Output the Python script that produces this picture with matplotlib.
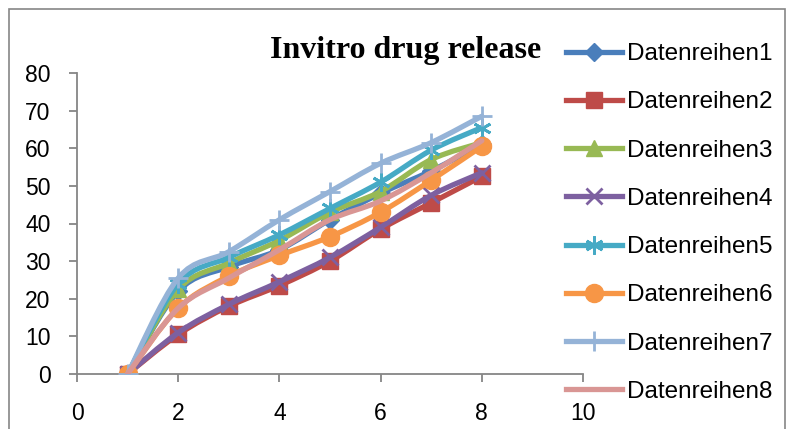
import numpy as np
import matplotlib
matplotlib.use("Agg")
import matplotlib.pyplot as plt
from matplotlib.path import Path
from matplotlib.patches import PathPatch, Rectangle
from matplotlib.lines import Line2D

# time points (x axis)
x = [1, 2, 3, 4, 5, 6, 7, 8]

# release values
s1 = [0, 22, 28.5, 33, 41, 48, 54, 61]
s2 = [0, 10.5, 18, 23.5, 30, 38.5, 45.5, 52.5]
s3 = [0, 22.5, 29.5, 35.5, 43, 48.5, 57, 61.5]
s4 = [0, 11, 18.5, 24.5, 31, 39, 47.5, 53.5]
s5 = [0, 24, 31, 37, 44, 51, 59.5, 65.5]
s6 = [0, 17.5, 26, 31.5, 36.5, 43, 51.5, 60.5]
s7 = [0, 25.5, 32.5, 41, 48.5, 56, 61.5, 68.5]
s8 = [0, 17.5, 25.5, 33, 41, 46, 53.5, 62]

labels = ["Datenreihen1", "Datenreihen2", "Datenreihen3", "Datenreihen4",
          "Datenreihen5", "Datenreihen6", "Datenreihen7", "Datenreihen8"]

series = [s1, s2, s3, s4, s5, s6, s7, s8]
colors = ["#4A7EBB", "#BE4B48", "#98B954", "#7D60A0",
          "#46AAC5", "#F79646", "#95B3D7", "#D99694"]
markers = ["D", "s", "^", "x", (6, 2, 0), "o", "+", None]
msizes = [9, 12, 11, 12, 13, 13, 15, 0]


def smooth_path(xs, ys):
    # Excel-like smoothed line: Catmull-Rom segments as cubic Bezier curves
    pts = np.column_stack([xs, ys]).astype(float)
    n = len(pts)
    verts = [pts[0]]
    codes = [Path.MOVETO]
    for i in range(n - 1):
        p0 = pts[max(i - 1, 0)]
        p1 = pts[i]
        p2 = pts[i + 1]
        p3 = pts[min(i + 2, n - 1)]
        verts += [p1 + (p2 - p0) / 6, p2 - (p3 - p1) / 6, p2]
        codes += [Path.CURVE4] * 3
    return Path(verts, codes)


fig = plt.figure(figsize=(7.87, 4.29), dpi=100)
ax = fig.add_axes([77 / 787, 1 - 374 / 429, 506 / 787, 301 / 429])

# outer chart border
fig.patches.append(Rectangle((9 / 787, -0.1), 776 / 787, 1.1 - 9 / 429,
                             transform=fig.transFigure, fill=False,
                             edgecolor="#868686", lw=1.2))

handles = []
for i, (ys, c, m, ms) in enumerate(zip(series, colors, markers, msizes)):
    ax.add_patch(PathPatch(smooth_path(x, ys), fill=False, edgecolor=c, lw=3.8,
                           capstyle="round", joinstyle="round", zorder=2 + i))
    if m is not None:
        ax.plot(x, ys, ls="none", marker=m, ms=ms, color=c, mec=c,
                mew=2 if m in ("x", "+", (6, 2, 0)) else 1, zorder=2 + i)
    handles.append(Line2D([], [], color=c, lw=3.8, marker=m, ms=ms, mec=c,
                          mew=2 if m in ("x", "+", (6, 2, 0)) else 1))

ax.set_xlim(0, 10)
ax.set_ylim(0, 80)
ax.set_xticks(range(0, 11, 2))
ax.set_yticks(range(0, 81, 10))
for side in ["top", "right"]:
    ax.spines[side].set_visible(False)
for side in ["left", "bottom"]:
    ax.spines[side].set_color("#868686")
    ax.spines[side].set_linewidth(1.3)
ax.tick_params(axis="both", direction="out", length=6, width=1.3,
               color="#868686", labelsize=16.5, labelfontfamily="Liberation Sans")
ax.tick_params(axis="y", pad=13)
ax.tick_params(axis="x", pad=14)

fig.text(406 / 787, 1 - 58 / 429, "Invitro drug release", ha="center",
         va="baseline", fontsize=23, fontweight="bold", family="Liberation Serif")

fig.legend(handles, labels, loc="upper left", bbox_to_anchor=(566 / 787, 1 - 43 / 429),
           frameon=False, prop={"family": "Liberation Sans", "size": 17.5},
           handlelength=2.3, handletextpad=0.2, labelspacing=1.08, borderpad=0,
           borderaxespad=0)

fig.savefig("out.png", dpi=100)
